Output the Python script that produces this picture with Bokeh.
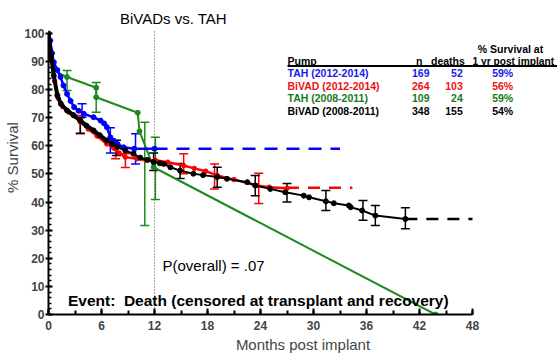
import numpy as np
from bokeh.plotting import figure
from bokeh.models import Range1d, FixedTicker, Whisker, TeeHead, ColumnDataSource, Title
from bokeh.core.properties import value
from bokeh.embed import file_html
from bokeh.resources import INLINE

FONT = "Liberation Sans"

# ---------------- data ----------------
# BiVAD (2008-2011) - black
blk_m = [0, 0.3, 0.6, 1.0, 1.4, 2.1, 2.8, 3.6, 4.3, 5.1, 5.8, 6.6, 7.2, 7.8, 8.7, 9.6, 10.4, 11.2, 11.9,
         12.6, 13.05, 13.8, 14.9, 16.4, 17.5, 19.1, 20.2, 22.5, 23.4, 25.1, 26.8, 28.9, 29.5, 31.4, 32.3,
         34.0, 34.2, 35.5, 37.0, 40.4]
blk_s = [100, 92, 85, 78, 75, 72.6, 71, 69, 67.2, 65.5, 63.8, 61.9, 60.7, 59.6, 58.3, 57.2, 55.8, 55, 54.3,
         53.8, 53.6, 52.4, 51.2, 50.1, 49.6, 48.9, 48.3, 47.1, 45.9, 44.7, 43.5, 42.3, 41.7, 40.3, 39.6,
         38.8, 38.2, 37, 35.2, 34]
blk_tail_m = [40.4, 48]
blk_tail_s = [34, 34]
blk_err_m = [3.6, 7.7, 11.9, 14.9, 19.1, 23.4, 27.0, 31.4, 35.6, 37.0, 40.4]
blk_err_lo = [64.5, 56.6, 51.2, 48.4, 45.3, 42.3, 40.0, 37.0, 33.5, 31.7, 30.5]
blk_err_hi = [70.0, 62.0, 57.5, 53.7, 52.4, 49.5, 46.6, 44.1, 40.6, 38.8, 38.0]

# BiVAD (2012-2014) - red
red_m = [0, 0.3, 0.7, 1.1, 1.6, 2.3, 3.0, 3.6, 4.5, 5.5, 6.6, 7.4, 8.0, 8.7, 10.0, 11.0, 12.1, 13.5,
         15.3, 16.5, 17.8, 19.1, 21.0, 23.6, 25.0, 27.0]
red_s = [100, 91, 83, 77, 74, 72, 70.5, 68.5, 66, 63.5, 60.7, 59.2, 57.5, 56, 55.4, 55, 54.9, 54.2,
         53, 52, 51, 49.5, 48, 45.9, 45.3, 44.9]
red_tail_m = [27.0, 34.4]
red_tail_s = [45.1, 45.1]
red_err_m = [3.6, 7.6, 8.7, 15.3, 18.8, 23.8]
red_err_lo = [64.3, 55.4, 52.3, 50.1, 44.7, 39.5]
red_err_hi = [70.8, 60.5, 57.2, 57.2, 53.6, 50.3]

# TAH (2012-2014) - blue
blu_m = [0, 0.2, 0.4, 0.6, 1.0, 1.36, 1.7, 2.1, 2.5, 2.9, 3.4, 4.0, 5.1, 5.9, 6.3, 6.6, 7.0, 7.4, 7.8,
         8.5, 9.7, 12.0]
blu_s = [100, 97.5, 93, 89.8, 87, 84.5, 81.5, 78.5, 76, 73.8, 72.5, 71.4, 70.2, 69, 68, 66.7, 63.1, 61.8,
         60.7, 59.5, 59, 59]
blu_tail_m = [12.0, 33.0]
blu_tail_s = [59, 59]
blu_err_m = [3.8, 7.0, 9.85]
blu_err_lo = [70.2, 57.5, 53.6]
blu_err_hi = [75.0, 66.5, 64.3]

# TAH (2008-2011) - green
grn_m = [0, 0.3, 0.6, 0.87, 2.1, 5.4, 5.4, 10.1, 10.3, 11.9, 43.8]
grn_s = [100, 93, 88, 86.4, 84.5, 80.7, 77.3, 71.8, 65.2, 52.4, 0]
grn_pts_m = [2.1, 5.4, 5.4, 10.1, 10.3, 11.9, 43.8]
grn_pts_s = [84.5, 80.7, 77.3, 71.8, 65.2, 52.4, 0]
grn_err_m = [2.1, 5.4, 10.9, 12.1]
grn_err_lo = [79.7, 72.0, 31.7, 40.9]
grn_err_hi = [86.8, 82.6, 68.4, 63.1]

x_ticks = [0, 6, 12, 18, 24, 30, 36, 42, 48]
y_ticks = [0, 10, 20, 30, 40, 50, 60, 70, 80, 90, 100]

pumps = ["TAH (2012-2014)", "BiVAD (2012-2014)", "TAH (2008-2011)", "BiVAD (2008-2011)"]
n_vals = ["169", "264", "109", "348"]
deaths = ["52", "103", "24", "155"]
surv1yr = ["59%", "56%", "59%", "54%"]

BLUE = "#0000ff"
RED = "#ff0000"
GREEN = "#1e8a1e"
BLACK = "#000000"
row_colors = ["#1a1ae6", "#ee1111", "#1a7a1a", BLACK]

# ---------------- figure ----------------
p = figure(width=557, height=358, output_backend="svg", toolbar_location=None,
           x_range=Range1d(0, 57.62), y_range=Range1d(0, 111.74),
           min_border_left=48, min_border_right=0, min_border_top=0, min_border_bottom=44)
p.outline_line_color = None
p.grid.visible = False
p.background_fill_color = "white"

xa = p.xaxis[0]
xa.ticker = FixedTicker(ticks=x_ticks, minor_ticks=list(range(0, 49, 3)))
xa.bounds = (0, 48)
xa.axis_line_width = 2
xa.major_tick_in = 6
xa.major_tick_out = 0
xa.minor_tick_in = 4
xa.minor_tick_out = 0
xa.major_tick_line_width = 2
xa.minor_tick_line_width = 2
xa.major_label_standoff = 6
xa.major_label_text_font = FONT
xa.major_label_text_font_style = "bold"
xa.major_label_text_font_size = "12px"
xa.axis_label = "Months post implant"
xa.axis_label_text_font = FONT
xa.axis_label_text_font_style = "normal"
xa.axis_label_text_font_size = "15px"
xa.axis_label_standoff = 3

ya = p.yaxis[0]
ya.ticker = FixedTicker(ticks=y_ticks, minor_ticks=list(range(0, 101, 2)))
ya.bounds = (0, 100)
ya.axis_line_width = 2
ya.major_tick_in = 4
ya.major_tick_out = 3
ya.minor_tick_in = 3
ya.minor_tick_out = 0
ya.major_tick_line_width = 2
ya.minor_tick_line_width = 1.5
ya.major_label_standoff = 1
ya.major_label_text_font = FONT
ya.major_label_text_font_style = "bold"
ya.major_label_text_font_size = "12px"

p.add_layout(Title(text="% Survival", align="center", offset=-36, standoff=2,
                   text_font=FONT, text_font_size="15px", text_font_style="normal"), "left")

# vertical dotted line at 12 months
p.line([12, 12], [0, 101], line_color="#444444", line_width=1, line_dash="1 2")

def whiskers(m, lo, hi, color):
    src = ColumnDataSource(dict(base=m, lower=lo, upper=hi))
    w = Whisker(source=src, base="base", lower="lower", upper="upper", dimension="height",
                line_color=color, line_width=1.5,
                upper_head=TeeHead(size=9, line_color=color, line_width=1.5),
                lower_head=TeeHead(size=9, line_color=color, line_width=1.5))
    p.add_layout(w)

# green
p.line(grn_m, grn_s, line_color=GREEN, line_width=2)
p.scatter(grn_pts_m, grn_pts_s, size=5, color=GREEN)
whiskers(grn_err_m, grn_err_lo, grn_err_hi, GREEN)

# blue
p.line(blu_m, blu_s, line_color=BLUE, line_width=2.5)
p.scatter(blu_m[1:], blu_s[1:], size=5, color=BLUE)
p.line(blu_tail_m, blu_tail_s, line_color=BLUE, line_width=2.5, line_dash="13 9")
whiskers(blu_err_m, blu_err_lo, blu_err_hi, BLUE)

# red
p.line(red_m, red_s, line_color=RED, line_width=2.5)
p.scatter(red_m, red_s, size=4.5, color=RED)
p.line(red_tail_m, red_tail_s, line_color=RED, line_width=2.5, line_dash="12 9")
whiskers(red_err_m, red_err_lo, red_err_hi, RED)

# black
p.line(blk_m[:12], blk_s[:12], line_color=BLACK, line_width=4)
p.line(blk_m, blk_s, line_color=BLACK, line_width=2)
p.scatter(blk_m, blk_s, size=5, color=BLACK)
p.line(blk_tail_m, blk_tail_s, line_color=BLACK, line_width=2.5, line_dash="12 9")
whiskers(blk_err_m, blk_err_lo, blk_err_hi, BLACK)

# texts
p.text([14.15], [105.2], text=["BiVADs vs. TAH"], text_font=value(FONT), text_font_size="15px",
       text_align="center", text_baseline="middle", text_color=BLACK)
p.text([12.9], [17.4], text=["P(overall) = .07"], text_font=value(FONT), text_font_size="15px",
       text_align="left", text_baseline="middle", text_color=BLACK)
p.text([2.2], [5.0], text=["Event:\u00a0 Death (censored at transplant and recovery)"], text_font=value(FONT),
       text_font_size="15.5px", text_font_style="bold", text_align="left", text_baseline="middle",
       text_color=BLACK)

# legend table
hdr_kw = dict(text_font=value(FONT), text_font_size="10.5px", text_font_style="bold",
              text_baseline="middle", text_color=BLACK)
p.text([52.3], [94.6], text=["% Survival at"], text_align="center", **hdr_kw)
p.text([27.06], [90.2], text=["Pump"], text_align="left", **hdr_kw)
p.text([41.6], [90.2], text=["n"], text_align="left", **hdr_kw)
p.text([43.3], [90.2], text=["deaths"], text_align="left", **hdr_kw)
p.text([48.0], [90.2], text=["1 yr post implant"], text_align="left", text_font=value(FONT),
       text_font_size="10.2px", text_font_style="bold", text_baseline="middle", text_color=BLACK)
p.line([27.06, 57.62], [88.4, 88.4], line_color=BLACK, line_width=2)

row_y = [85.8, 81.3, 76.9, 72.5]
src_rows = ColumnDataSource(dict(y=row_y, pump=pumps, n=n_vals, d=deaths, s=surv1yr, c=row_colors))
row_kw = dict(source=src_rows, text_font=value(FONT), text_font_size="10.5px", text_font_style="bold",
              text_baseline="middle", text_color="c")
p.text(x=27.06, y="y", text="pump", text_align="left", **row_kw)
p.text(x=43.13, y="y", text="n", text_align="right", **row_kw)
p.text(x=46.9, y="y", text="d", text_align="right", **row_kw)
p.text(x=52.6, y="y", text="s", text_align="right", **row_kw)

open("out.html", "w").write(file_html(p, INLINE))
